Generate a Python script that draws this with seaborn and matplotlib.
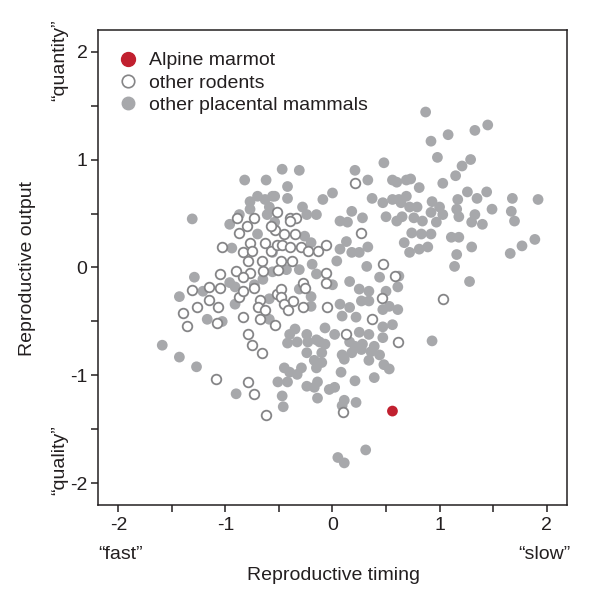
import numpy as np
import pandas as pd
import matplotlib
matplotlib.use("Agg")
import matplotlib.pyplot as plt
import seaborn as sns
from matplotlib.lines import Line2D

# other placental mammals (filled grey)
mammal_timing = [
    0.87, 1.45, 1.33, 1.08, 0.92, 0.98, 1.21, 1.29, 1.15, 1.03, 0.73, 0.81, 1.26, 1.35, 1.44,
    1.68, 1.92, 1.49, 1.67, 1.70, 1.17, 1.33, 0.69, 0.72, 0.79, 0.65, 0.76, 0.84, 0.93, 1.00,
    0.92, 1.03, 0.97, 1.16, 1.18, 1.30, 1.40, 0.62, 1.11, 1.18, 0.89, 0.81, 0.72, 0.67, 0.74,
    0.83, 0.92, 1.16, 1.14, 1.30, 1.28, 1.66, 1.77, 1.89, 0.93, 0.62, 0.48, 0.21, -0.47, -0.31,
    0.33, 0.56, 0.60, 0.69, -0.42, 0.00, -0.09, -0.42, -0.54, 0.37, 0.47, 0.56, 0.64, -0.28, -0.24,
    -0.15, 0.18, 0.07, 0.28, 0.50, 0.60, -0.59, -0.82, -0.62, -1.31, -0.77, -0.70, -0.63, -0.56, -0.77,
    -0.87, -0.96, -0.61, -0.54, -0.70, -0.94, -1.29, -0.73, -0.65, -1.43, -1.21, -0.96, -0.91, -0.91, -0.59,
    -1.17, -1.03, -1.59, -0.26, -0.20, 0.07, 0.13, 0.14, 0.33, 0.18, 0.25, 0.32, 0.04, -0.56, -0.56,
    -0.43, -0.31, -0.19, -0.15, 0.00, 0.16, 0.44, 0.25, 0.34, 0.50, 0.61, -0.31, -0.20, -0.20, 0.07,
    0.16, 0.27, 0.34, 0.47, 0.53, 0.61, 0.09, 0.22, 0.47, 0.56, -0.59, -0.35, -0.40, -0.24, -0.07,
    0.02, 0.25, 0.34, 0.47, -0.33, -0.15, -0.07, 0.21, 0.39, -1.43, -1.27, -0.90, -0.51, -0.42, -0.23,
    -0.12, 0.16, 0.28, -0.24, -0.10, 0.09, 0.18, 0.27, 0.36, 0.44, -0.17, -0.10, 0.11, 0.34, -0.45,
    -0.29, -0.15, -0.40, -0.33, 0.48, 0.53, 0.08, 0.39, -0.42, -0.14, 0.21, -0.24, -0.17, -0.03, 0.02,
    -0.47, -0.46, -0.14, 0.11, 0.22, 0.09, 0.31, 0.05, 0.11,
]
mammal_output = [
    1.44, 1.32, 1.27, 1.23, 1.17, 1.02, 0.94, 1.00, 0.85, 0.78, 0.82, 0.74, 0.70, 0.64, 0.70,
    0.64, 0.63, 0.54, 0.52, 0.43, 0.63, 0.49, 0.66, 0.56, 0.56, 0.47, 0.46, 0.43, 0.61, 0.56,
    0.51, 0.49, 0.42, 0.54, 0.47, 0.42, 0.40, 0.63, 0.28, 0.28, 0.19, 0.17, 0.14, 0.23, 0.32,
    0.31, 0.31, 0.12, 0.01, 0.19, -0.13, 0.13, 0.20, 0.26, -0.68, -0.08, 0.97, 0.90, 0.91, 0.90,
    0.81, 0.81, 0.79, 0.81, 0.75, 0.69, 0.63, 0.64, 0.66, 0.64, 0.60, 0.63, 0.60, 0.56, 0.49,
    0.49, 0.52, 0.43, 0.46, 0.47, 0.43, 0.56, 0.81, 0.81, 0.45, 0.61, 0.66, 0.63, 0.66, 0.54,
    0.49, 0.40, 0.49, 0.42, 0.31, 0.18, -0.09, -0.16, -0.11, -0.27, -0.22, -0.14, -0.18, -0.34, -0.29,
    -0.48, -0.50, -0.72, 0.29, 0.23, 0.17, 0.24, 0.42, 0.19, 0.14, 0.14, 0.01, 0.06, 0.14, -0.04,
    -0.02, -0.02, 0.03, -0.06, -0.16, -0.13, -0.09, -0.20, -0.22, -0.22, -0.18, -0.20, -0.27, -0.36, -0.34,
    -0.37, -0.31, -0.31, -0.39, -0.36, -0.39, -0.45, -0.46, -0.55, -0.53, -0.48, -0.57, -0.62, -0.62, -0.56,
    -0.62, -0.60, -0.62, -0.65, -0.69, -0.67, -0.71, -0.73, -0.73, -0.83, -0.92, -1.17, -1.06, -0.70, -0.69,
    -0.69, -0.69, -0.71, -0.79, -0.79, -0.81, -0.79, -0.76, -0.78, -0.81, -0.86, -0.88, -0.85, -0.86, -0.93,
    -0.93, -0.93, -0.97, -0.99, -0.90, -0.94, -0.97, -1.02, -1.06, -1.06, -1.05, -1.10, -1.11, -1.13, -1.11,
    -1.19, -1.29, -1.21, -1.23, -1.25, -1.28, -1.69, -1.76, -1.81,
]

# other rodents (open circles)
rodent_timing = [
    0.21, -0.52, -0.40, -0.34, -0.89, -0.73, -0.80, -0.87, -1.03, -0.84, -0.77, -0.75, -0.63, -0.57, -0.79,
    -0.66, -1.05, -0.90, -0.77, -0.84, -0.65, -1.31, -1.15, -1.05, -0.87, -0.73, -0.84, -1.15, -1.27, -1.07,
    -0.68, -0.70, -0.63, -0.52, -1.40, -1.36, -1.08, -0.84, -0.68, -0.54, -0.79, -0.75, -0.54, -0.40, -0.45,
    -0.35, -0.52, -0.47, -0.40, -0.29, -0.23, -0.14, -0.06, 0.27, -0.48, -0.38, -0.51, -0.06, -0.06, 0.47,
    0.58, -0.48, -0.48, -0.28, -0.26, -0.37, -0.45, -0.42, -0.28, -0.05, 0.46, 0.37, 0.13, 0.61, -1.09,
    -0.79, -0.73, -0.62, -0.66, 0.10, 1.03, -0.57,
]
rodent_output = [
    0.78, 0.51, 0.46, 0.46, 0.46, 0.46, 0.38, 0.32, 0.19, 0.14, 0.23, 0.15, 0.23, 0.15, 0.06,
    0.06, -0.06, -0.03, -0.05, -0.09, -0.03, -0.21, -0.18, -0.19, -0.27, -0.19, -0.22, -0.30, -0.37, -0.37,
    -0.30, -0.37, -0.39, -0.25, -0.42, -0.54, -0.51, -0.46, -0.48, -0.53, -0.62, -0.72, 0.35, 0.43, 0.31,
    0.31, 0.21, 0.21, 0.19, 0.19, 0.15, 0.15, 0.21, 0.32, 0.06, 0.06, -0.02, -0.05, -0.14, 0.03,
    -0.08, -0.20, -0.27, -0.14, -0.19, -0.31, -0.34, -0.39, -0.37, -0.37, -0.28, -0.48, -0.62, -0.69, -1.03,
    -1.06, -1.17, -1.37, -0.79, -1.34, -0.29, 0.38,
]

# Alpine marmot
marmot_timing = [0.56]
marmot_output = [-1.33]

grey = "#a7a8ab"
ring = "#858587"
red = "#c1202f"
ink = "#231f20"

sns.set_style("ticks")
plt.rcParams["font.family"] = ["Liberation Sans", "DejaVu Sans"]

fig = plt.figure(figsize=(5.89, 5.96), dpi=100)
ax = fig.add_axes([0.1664, 0.1527, 0.7962, 0.797])

sns.scatterplot(x=mammal_timing, y=mammal_output, ax=ax, color=grey,
                s=60, edgecolor="none", linewidth=0, zorder=2)
sns.scatterplot(x=rodent_timing, y=rodent_output, ax=ax, color="white",
                s=48, edgecolor=ring, linewidth=1.3, zorder=3)
sns.scatterplot(x=marmot_timing, y=marmot_output, ax=ax, color=red,
                s=60, edgecolor="none", linewidth=0, zorder=4)

ax.set_xlim(-2.19, 2.19)
ax.set_ylim(-2.2, 2.2)
ticks = np.arange(-2, 2.01, 0.5)
labels = ["-2", "", "-1", "", "0", "", "1", "", "2"]
ax.set_xticks(ticks)
ax.set_xticklabels(labels)
ax.set_yticks(ticks)
ax.set_yticklabels(labels)
ax.tick_params(direction="out", length=5, width=1.1, labelsize=14,
               pad=2.5, colors=ink, labelcolor=ink)
ax.tick_params(axis="x", pad=4)
for sp in ax.spines.values():
    sp.set_visible(True)
    sp.set_linewidth(1.1)
    sp.set_color(ink)
ax.set_xlabel("")
ax.set_ylabel("")

handles = [
    Line2D([], [], marker="o", linestyle="none", markersize=10,
           markerfacecolor=red, markeredgecolor=red, label="Alpine marmot"),
    Line2D([], [], marker="o", linestyle="none", markersize=9,
           markerfacecolor="white", markeredgecolor=ring, markeredgewidth=1.2,
           label="other rodents"),
    Line2D([], [], marker="o", linestyle="none", markersize=9,
           markerfacecolor=grey, markeredgecolor=grey, label="other placental mammals"),
]
leg = ax.legend(handles=handles, loc="upper left", frameon=False, fontsize=14,
                handlelength=1.0, handletextpad=0.6, labelspacing=0.25,
                borderaxespad=0.4, bbox_to_anchor=(0.01, 0.987))
for t in leg.get_texts():
    t.set_color(ink)

fig.text(0.566, 0.035, "Reproductive timing", ha="center", va="center", fontsize=14, color=ink)
fig.text(0.046, 0.55, "Reproductive output", ha="center", va="center", rotation=90,
         fontsize=14, color=ink)
fig.text(0.204, 0.070, "\u201cfast\u201d", ha="center", va="center", fontsize=14, color=ink)
fig.text(0.925, 0.070, "\u201cslow\u201d", ha="center", va="center", fontsize=14, color=ink)
fig.text(0.102, 0.899, "\u201cquantity\u201d", ha="center", va="center", rotation=90,
         fontsize=14, color=ink)
fig.text(0.102, 0.228, "\u201cquality\u201d", ha="center", va="center", rotation=90,
         fontsize=14, color=ink)

fig.savefig("out.png", dpi=100)
